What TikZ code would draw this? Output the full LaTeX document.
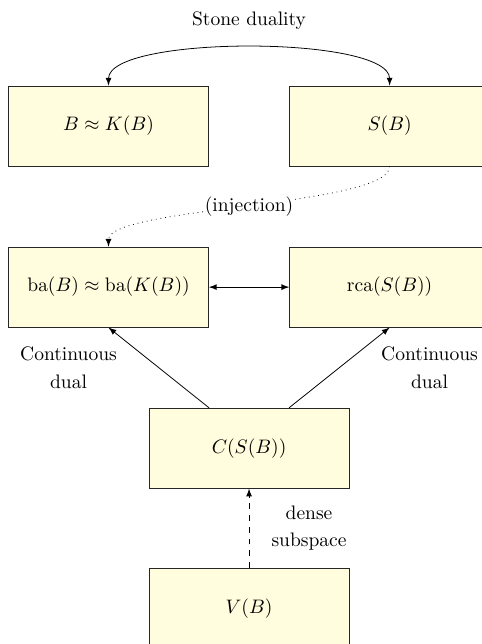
\documentclass[tikz,border=0pt]{standalone}
\usepackage{amsmath}
\usepackage{amssymb}
\usetikzlibrary{positioning, arrows}
\definecolor{boxfill}{RGB}{255,253,221}

\begin{document}
\begin{tikzpicture}
        \tikzset{ spc/.style ={draw=black!85, fill=boxfill, minimum width=3.6cm, minimum height=1.44cm} }
        \tikzset{ lbl/.style ={align=center} }

        \useasboundingbox (-1.953,-9.324) rectangle (6.723,2.268);

        \node[spc] (bk)  at (0.00,  0.00) {$B \approx K(B)$};
        \node[spc] (sb)  at (5.06,  0.00) {$S(B)$};

        \node[spc] (ba)  at (0.00, -2.90) {$\mathrm{ba}(B) \approx \mathrm{ba}(K(B))$};
        \node[spc] (rca) at (5.06, -2.90) {$\mathrm{rca}(S(B))$};

        \node[spc] (csb) at (2.53, -5.80) {$C(S(B))$};
        \node[spc] (vb)  at (2.53, -8.68) {$V(B)$};

        \draw[<->,>=latex] (bk.north) to[out=90, in=90, looseness=0.46] node [midway, above=0.2cm] (stone) {Stone duality} (sb.north);
        \draw[->,>=latex,dotted] (sb.south) to[out=-90, in=90, looseness=0.35] node [midway, fill=white, inner sep=0.5pt] (inj) {(injection)} (ba.north);
        \draw[<->,>=latex] (ba) -- (rca);

        \draw[->,>=latex] ([xshift=-0.72cm]csb.north) -- (ba.south) node [lbl, midway, left=0.63cm] (cdl) {Continuous\\[2pt]dual};
        \draw[->,>=latex] ([xshift=+0.72cm]csb.north) -- (rca.south) node [lbl, midway, right=0.63cm] (cdr) {Continuous\\[2pt]dual};

        \draw[->,>=latex,dashed] (vb) -- (csb) node [lbl, midway, right=0.28cm] (dense) {dense\\[2pt]subspace};
      \end{tikzpicture}
\end{document}
